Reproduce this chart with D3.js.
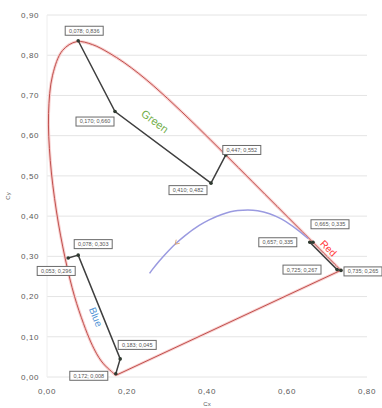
<!DOCTYPE html>
<html>
<head>
<meta charset="utf-8">
<script src="https://cdn.jsdelivr.net/npm/d3@7"></script>
<style>
  body { margin: 0; background: #fff; }
  svg { display: block; font-family: "Liberation Sans", Arial, sans-serif; }
</style>
</head>
<body>
<div id="chart"></div>
<script>
// CIE 1931 spectral locus (x, y), 380..700 nm
const locusX = [0.1741, 0.1740, 0.1738, 0.1736, 0.1733, 0.1730, 0.1726, 0.1721, 0.1714, 0.1703,
  0.1689, 0.1669, 0.1644, 0.1611, 0.1566, 0.1510, 0.1440, 0.1355, 0.1241, 0.1096,
  0.0913, 0.0687, 0.0454, 0.0235, 0.0082, 0.0039, 0.0139, 0.0389, 0.0743, 0.1142,
  0.1547, 0.1929, 0.2296, 0.2658, 0.3016, 0.3373, 0.3731, 0.4087, 0.4441, 0.4788,
  0.5125, 0.5448, 0.5752, 0.6029, 0.6270, 0.6482, 0.6658, 0.6801, 0.6915, 0.7006,
  0.7079, 0.7140, 0.7190, 0.7230, 0.7260, 0.7283, 0.7300, 0.7311, 0.7320, 0.7334,
  0.7344, 0.7347];
const locusY = [0.0050, 0.0050, 0.0049, 0.0049, 0.0048, 0.0048, 0.0048, 0.0048, 0.0051, 0.0058,
  0.0069, 0.0086, 0.0109, 0.0138, 0.0177, 0.0227, 0.0297, 0.0399, 0.0578, 0.0868,
  0.1327, 0.2007, 0.2950, 0.4127, 0.5384, 0.6548, 0.7502, 0.8120, 0.8338, 0.8262,
  0.8059, 0.7816, 0.7543, 0.7243, 0.6923, 0.6589, 0.6245, 0.5896, 0.5547, 0.5202,
  0.4866, 0.4544, 0.4242, 0.3965, 0.3725, 0.3514, 0.3340, 0.3197, 0.3083, 0.2993,
  0.2920, 0.2859, 0.2809, 0.2770, 0.2740, 0.2717, 0.2700, 0.2689, 0.2680, 0.2666,
  0.2656, 0.2653];

// Planckian locus, 20000 K down to 1000 K
const planckX = [0.2565, 0.2637, 0.2807, 0.2952, 0.3064, 0.3221, 0.3451, 0.3805, 0.4053, 0.4369, 0.4770, 0.5267, 0.5857, 0.6528];
const planckY = [0.2577, 0.2675, 0.2884, 0.3048, 0.3166, 0.3318, 0.3516, 0.3768, 0.3907, 0.4041, 0.4137, 0.4133, 0.3931, 0.3444];

// colour region boundaries
const greenX = [0.078, 0.170, 0.410, 0.447];
const greenY = [0.836, 0.660, 0.482, 0.552];
const redX = [0.665, 0.657, 0.725, 0.735];
const redY = [0.335, 0.335, 0.267, 0.265];
const blueX = [0.053, 0.078, 0.183, 0.172];
const blueY = [0.296, 0.303, 0.045, 0.008];

const xTicks = [0, 0.2, 0.4, 0.6, 0.8];
const yTicks = [0, 0.1, 0.2, 0.3, 0.4, 0.5, 0.6, 0.7, 0.8, 0.9];

const width = 382, height = 408;
const margin = { left: 47, right: 15, top: 15, bottom: 31 };

const svg = d3.select("#chart").append("svg")
  .attr("width", width).attr("height", height);

const x = d3.scaleLinear().domain([0, 0.8]).range([margin.left, width - margin.right]);
const y = d3.scaleLinear().domain([0, 0.9]).range([height - margin.bottom, margin.top]);

const fmt = (v) => d3.format(".2f")(v).replace(".", ",");
const fmt3 = (v) => d3.format(".3f")(v).replace(".", ",");

// grid
svg.append("g").selectAll("line").data(yTicks).join("line")
  .attr("x1", x(0)).attr("x2", x(0.8))
  .attr("y1", (d) => y(d)).attr("y2", (d) => y(d))
  .attr("stroke", "#e4e4e4").attr("stroke-width", 1);
svg.append("line")
  .attr("x1", x(0)).attr("x2", x(0))
  .attr("y1", y(0)).attr("y2", y(0.9))
  .attr("stroke", "#eeeeee");

// tick labels
svg.append("g").selectAll("text").data(yTicks).join("text")
  .attr("x", x(0) - 8).attr("y", (d) => y(d))
  .attr("dy", "0.35em").attr("text-anchor", "end")
  .attr("font-size", 8).attr("letter-spacing", 0.6).attr("fill", "#595959")
  .text(fmt);
svg.append("g").selectAll("text").data(xTicks).join("text")
  .attr("x", (d) => x(d)).attr("y", y(0) + 14)
  .attr("dy", "0.35em").attr("text-anchor", "middle")
  .attr("font-size", 8).attr("letter-spacing", 0.6).attr("fill", "#595959")
  .text(fmt);

svg.append("text")
  .attr("transform", `translate(10, ${(y(0) + y(0.9)) / 2}) rotate(-90)`)
  .attr("text-anchor", "middle").attr("font-size", 6).attr("fill", "#595959")
  .text("Cy");
svg.append("text")
  .attr("x", (x(0) + x(0.8)) / 2).attr("y", height - 2)
  .attr("text-anchor", "middle").attr("font-size", 6).attr("fill", "#595959")
  .text("Cx");

// spectral locus (smooth), closed by the straight line of purples
const locus = locusX.map((v, i) => [v, locusY[i]]);
const lineGen = d3.line().x((d) => x(d[0])).y((d) => y(d[1]));
const smooth = d3.line().x((d) => x(d[0])).y((d) => y(d[1])).curve(d3.curveCatmullRom.alpha(0.5));
const locusPath = smooth(locus) + lineGen([locus[locus.length - 1], locus[0]]).replace(/^M[^L]*/, "");

svg.append("path").attr("d", locusPath)
  .attr("fill", "none").attr("stroke", "#f8d0d0").attr("stroke-width", 3);
svg.append("path").attr("d", locusPath)
  .attr("fill", "none").attr("stroke", "#c0504d").attr("stroke-width", 1);

// planckian locus
const planck = planckX.map((v, i) => [v, planckY[i]]);
svg.append("path").attr("d", smooth(planck))
  .attr("fill", "none").attr("stroke", "#9a9ae0").attr("stroke-width", 1.5);
// small direction mark on the curve
{
  const a = planck[5], b = planck[4];
  const ang = Math.atan2(y(b[1]) - y(a[1]), x(b[0]) - x(a[0])) * 180 / Math.PI;
  svg.append("path")
    .attr("d", "M3,-2.5 L-1,0 L3,2.5")
    .attr("transform", `translate(${x(a[0])},${y(a[1])}) rotate(${ang + 180})`)
    .attr("fill", "none").attr("stroke", "#d9a066").attr("stroke-width", 0.8);
}

// colour regions
const regions = [
  { name: "green", xs: greenX, ys: greenY, offsets: [[6, -10], [-20, 10], [-23, 7], [16, -5]] },
  { name: "red", xs: redX, ys: redY, offsets: [[17, -18], [-32, 0], [-35, 0], [22, 1]] },
  { name: "blue", xs: blueX, ys: blueY, offsets: [[-12, 13], [15, -11], [17, -14], [-27, 2]] },
];

regions.forEach((r) => {
  const pts = r.xs.map((v, i) => [v, r.ys[i]]);
  svg.append("path").attr("d", lineGen(pts))
    .attr("fill", "none").attr("stroke", "#3f3f3f").attr("stroke-width", 1.5);
  svg.append("g").selectAll("circle").data(pts).join("circle")
    .attr("cx", (d) => x(d[0])).attr("cy", (d) => y(d[1])).attr("r", 1.8)
    .attr("fill", "#2f3a30");

  const lab = svg.append("g").selectAll("g").data(pts).join("g")
    .attr("transform", (d, i) => `translate(${x(d[0]) + r.offsets[i][0]},${y(d[1]) + r.offsets[i][1]})`);
  lab.append("rect")
    .attr("x", -19).attr("y", -4.5).attr("width", 38).attr("height", 9)
    .attr("fill", "#fff").attr("stroke", "#6a6a6a").attr("stroke-width", 1);
  lab.append("text")
    .attr("text-anchor", "middle").attr("dy", "0.35em")
    .attr("font-size", 5.5).attr("fill", "#555")
    .text((d) => `${fmt3(d[0])}; ${fmt3(d[1])}`);
});

// region names, placed along their boundary segments
function segLabel(xs, ys, i, j, text, color, size, along, off) {
  const x1 = x(xs[i]), y1 = y(ys[i]), x2 = x(xs[j]), y2 = y(ys[j]);
  const ang = Math.atan2(y2 - y1, x2 - x1) * 180 / Math.PI;
  const mx = (x1 + x2) / 2, my = (y1 + y2) / 2;
  svg.append("text")
    .attr("transform", `translate(${mx},${my}) rotate(${ang}) translate(${along},${off})`)
    .attr("text-anchor", "middle").attr("dy", "0.35em").attr("font-size", size).attr("fill", color)
    .text(text);
}
segLabel(greenX, greenY, 1, 2, "Green", "#70ad47", 11, -22, -16);
segLabel(blueX, blueY, 1, 2, "Blue", "#4f93d6", 10, 8, 7);
segLabel(redX, redY, 1, 2, "Red", "#ff3b3b", 10, -2, -9);
</script>
</body>
</html>
